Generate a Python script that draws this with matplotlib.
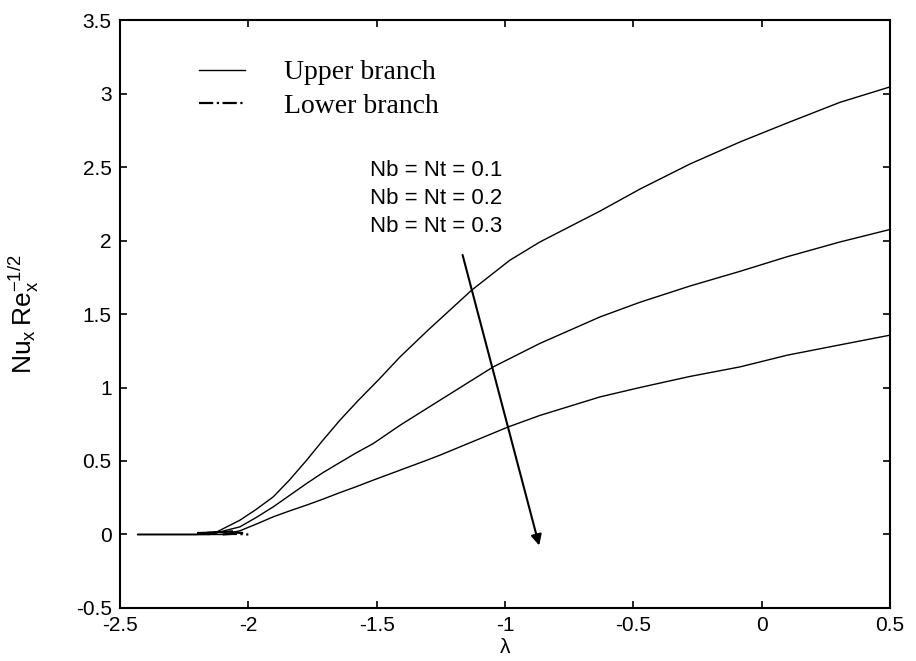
import matplotlib.pyplot as plt

# Upper branch, Nb = Nt = 0.1, 0.2, 0.3
lam_1 = [-2.43, -2.2, -2.12, -2.033, -1.97, -1.903, -1.84, -1.773, -1.71, -1.643, -1.57, -1.494, -1.409, -1.3, -1.13, -0.981, -0.864, -0.63, -0.474, -0.28, -0.085, 0.1, 0.305, 0.5]
nu_1 = [0.0, 0.0, 0.02, 0.097, 0.17, 0.256, 0.37, 0.505, 0.64, 0.778, 0.915, 1.05, 1.208, 1.39, 1.662, 1.866, 1.99, 2.2, 2.35, 2.52, 2.67, 2.8, 2.94, 3.045]

lam_2 = [-2.43, -2.15, -2.033, -1.97, -1.903, -1.84, -1.773, -1.71, -1.643, -1.58, -1.513, -1.409, -1.253, -1.046, -0.864, -0.63, -0.474, -0.28, -0.085, 0.1, 0.305, 0.5]
nu_2 = [0.0, 0.0, 0.052, 0.115, 0.188, 0.265, 0.347, 0.42, 0.49, 0.555, 0.619, 0.743, 0.914, 1.14, 1.30, 1.48, 1.58, 1.69, 1.79, 1.89, 1.99, 2.075]

lam_3 = [-2.43, -2.1, -2.033, -1.97, -1.903, -1.84, -1.773, -1.71, -1.643, -1.58, -1.513, -1.305, -1.253, -0.987, -0.864, -0.63, -0.474, -0.28, -0.085, 0.1, 0.305, 0.5]
nu_3 = [0.0, 0.0, 0.025, 0.07, 0.12, 0.16, 0.20, 0.24, 0.285, 0.325, 0.37, 0.505, 0.54, 0.732, 0.81, 0.936, 1.0, 1.075, 1.14, 1.22, 1.29, 1.356]

# Lower branch (tiny pieces near the turning points)
lam_low_1 = [-2.2, -2.15, -2.1, -2.06]
nu_low_1 = [0.01, 0.012, 0.016, 0.022]
lam_low_2 = [-2.16, -2.11, -2.06, -2.02]
nu_low_2 = [0.012, 0.016, 0.014, 0.01]
lam_low_3 = [-2.1, -2.06, -2.02, -2.0]
nu_low_3 = [0.0, 0.004, 0.002, 0.0]

casos = ['Nb = Nt = 0.1', 'Nb = Nt = 0.2', 'Nb = Nt = 0.3']
xticks = [-2.5, -2, -1.5, -1, -0.5, 0, 0.5]
xtick_labels = ['-2.5', '-2', '-1.5', '-1', '-0.5', '0', '0.5']
yticks = [-0.5, 0, 0.5, 1, 1.5, 2, 2.5, 3, 3.5]
ytick_labels = ['-0.5', '0', '0.5', '1', '1.5', '2', '2.5', '3', '3.5']

plt.rcParams['font.family'] = ['Liberation Sans', 'DejaVu Sans']

fig, ax = plt.subplots(figsize=(9.16, 6.61), dpi=100)
fig.subplots_adjust(left=0.131, right=0.9716, top=0.9697, bottom=0.0802)

ax.plot(lam_1, nu_1, color='k', lw=1.0, label='Upper branch')
ax.plot(lam_2, nu_2, color='k', lw=1.0)
ax.plot(lam_3, nu_3, color='k', lw=1.0)
ax.plot(lam_low_1, nu_low_1, color='k', lw=1.6, ls='-.', label='Lower branch')
ax.plot(lam_low_2, nu_low_2, color='k', lw=1.6, ls='-.')
ax.plot(lam_low_3, nu_low_3, color='k', lw=1.6, ls='-.')

ax.set_xlim(-2.5, 0.5)
ax.set_ylim(-0.5, 3.5)
ax.set_xticks(xticks)
ax.set_xticklabels(xtick_labels)
ax.set_yticks(yticks)
ax.set_yticklabels(ytick_labels)
ax.tick_params(direction='in', length=5, width=1.2, top=True, right=True, labelsize=15, pad=6)
for s in ax.spines.values():
    s.set_linewidth(1.5)

ax.set_xlabel('λ', fontsize=15, labelpad=2)
ax.set_ylabel(r'$\mathregular{Nu_x\,Re_x^{-1/2}}$', fontsize=19)
ax.yaxis.set_label_coords(-0.103, 0.5)

# texto de los casos
for i, t in enumerate(casos):
    ax.text(-1.526, 2.478 - 0.19 * i, t, fontsize=16, ha='left', va='center')

ax.annotate('', xy=(-0.864, -0.093), xytext=(-1.168, 1.92),
            arrowprops=dict(arrowstyle='-|>', lw=1.5, color='k', mutation_scale=16))

ax.legend(loc='upper left', bbox_to_anchor=(0.1026, 0.932), frameon=False,
          prop={'family': 'Liberation Serif', 'size': 20}, handlelength=1.65,
          handletextpad=1.4, borderpad=0, borderaxespad=0, labelspacing=0.28)

plt.savefig('out.png')
